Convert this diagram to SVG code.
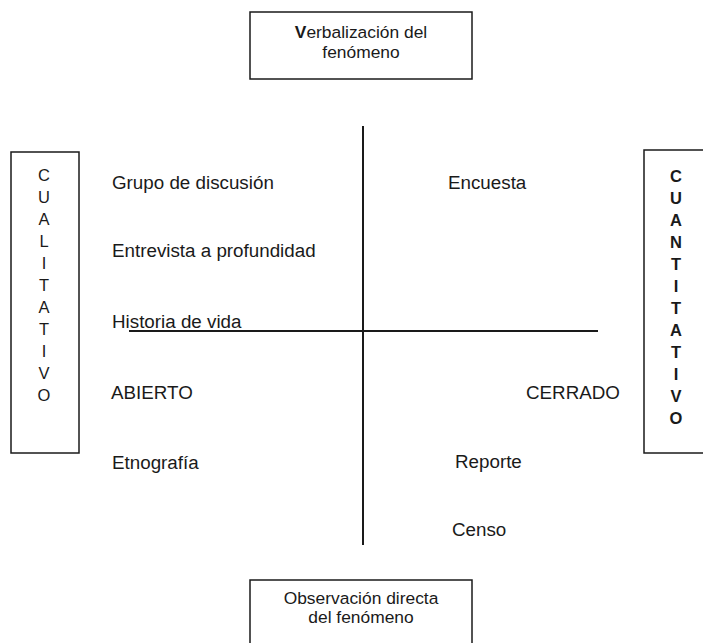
<svg xmlns="http://www.w3.org/2000/svg" width="703" height="643" viewBox="0 0 703 643">
<style>
.box{fill:none;stroke:#1a1a1a;stroke-width:1.5}
.ln{stroke:#1a1a1a;stroke-width:2;fill:none}
text{font-family:"Liberation Sans",Arial,sans-serif;fill:#1a1a1a}
.t{font-size:17.4px}
.b{font-size:18.8px}
.v{font-size:16.5px;text-anchor:middle}
.c{text-anchor:middle}
</style>
<rect width="703" height="643" fill="#fff"/>
<g id="top">
<rect class="box" x="250" y="12" width="222" height="67"/>
<text class="t c" x="361" y="38"><tspan font-weight="bold">V</tspan>erbalización del</text>
<text class="t c" x="361" y="58">fenómeno</text>
</g>
<g id="bottom">
<rect class="box" x="250" y="580" width="222" height="70"/>
<text class="t c" x="361" y="604">Observación directa</text>
<text class="t c" x="361" y="623">del fenómeno</text>
</g>
<g id="cualitativo">
<rect class="box" x="11" y="152" width="68" height="301"/>
<text class="v" x="44"><tspan x="44" y="181">C</tspan><tspan x="44" y="203">U</tspan><tspan x="44" y="225">A</tspan><tspan x="44" y="247">L</tspan><tspan x="44" y="269">I</tspan><tspan x="44" y="291">T</tspan><tspan x="44" y="313">A</tspan><tspan x="44" y="335">T</tspan><tspan x="44" y="357">I</tspan><tspan x="44" y="379">V</tspan><tspan x="44" y="401">O</tspan></text>
</g>
<g id="cuantitativo">
<rect class="box" x="644" y="150" width="62" height="303"/>
<text class="v" x="676" font-weight="bold"><tspan x="676" y="182">C</tspan><tspan x="676" y="204">U</tspan><tspan x="676" y="226">A</tspan><tspan x="676" y="248">N</tspan><tspan x="676" y="270">T</tspan><tspan x="676" y="292">I</tspan><tspan x="676" y="314">T</tspan><tspan x="676" y="336">A</tspan><tspan x="676" y="358">T</tspan><tspan x="676" y="380">I</tspan><tspan x="676" y="402">V</tspan><tspan x="676" y="424">O</tspan></text>
</g>
<g id="connectors">
<line class="ln" x1="363" y1="126" x2="363" y2="545"/>
<line class="ln" x1="129" y1="331" x2="598" y2="331"/>
</g>
<g id="labels">
<text class="b" x="112" y="189">Grupo de discusión</text>
<text class="b" x="112" y="257">Entrevista a profundidad</text>
<text class="b" x="112" y="328">Historia de vida</text>
<text class="b" x="111" y="399">ABIERTO</text>
<text class="b" x="112" y="469">Etnografía</text>
<text class="b" x="448" y="189">Encuesta</text>
<text class="b" x="526" y="399">CERRADO</text>
<text class="b" x="455" y="468">Reporte</text>
<text class="b" x="452" y="536">Censo</text>
</g>
</svg>
